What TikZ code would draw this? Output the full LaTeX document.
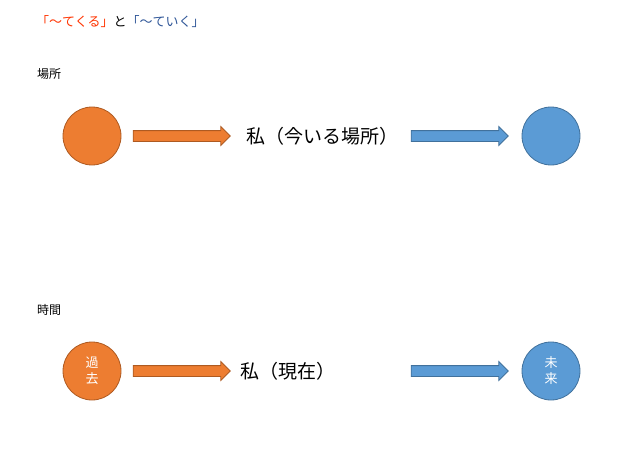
\documentclass[tikz,border=0pt]{standalone}
\usepackage{fontspec}
\setmainfont{Noto Sans CJK JP}
\usetikzlibrary{shapes.arrows}
\definecolor{org}{HTML}{ED7D31}
\definecolor{orgd}{HTML}{AE5A21}
\definecolor{blu}{HTML}{5B9BD5}
\definecolor{blud}{HTML}{41719C}
\definecolor{tred}{HTML}{FF3300}
\definecolor{tblue}{HTML}{2E5597}
\begin{document}
\begin{tikzpicture}[x=1pt,y=-1pt,
  circ/.style={circle,minimum size=58pt,inner sep=0pt,line width=0.8pt,text=white,font=\fontsize{13}{15}\selectfont,align=center},
  oc/.style={circ,fill=org,draw=orgd},
  bc/.style={circ,fill=blu,draw=blud},
  barr/.style={single arrow,minimum height=97pt,single arrow head extend=4pt,single arrow tip angle=90,inner sep=0pt,line width=0.8pt},
  oa/.style={barr,fill=org,draw=orgd},
  ba/.style={barr,fill=blu,draw=blud},
  lab/.style={font=\fontsize{12}{14}\selectfont,anchor=west},
  big/.style={font=\fontsize{19}{22}\selectfont}]
\useasboundingbox (0,0) rectangle (640,452);
\node[anchor=west,font=\fontsize{13}{15}\selectfont,inner sep=0pt] (title) at (36,22) {\textcolor{tred}{「〜てくる」}と\textcolor{tblue}{「〜ていく」}};
\node[lab,inner sep=0pt] (basho) at (37,74) {場所};
\node[oc] (c1) at (92,136) {};
\node[oa] (a1) at (179,136) {\rule{0pt}{10pt}};
\node[big] (t1) at (322,136) {私（今いる場所）};
\node[ba] (a2) at (457,136) {\rule{0pt}{10pt}};
\node[bc] (c2) at (551,136) {};
\node[lab,inner sep=0pt] (jikan) at (37,310) {時間};
\node[oc] (c3) at (92,371) {過\\[1pt]去};
\node[oa] (a3) at (179,371) {\rule{0pt}{10pt}};
\node[big] (t2) at (288,371) {私（現在）};
\node[ba] (a4) at (457,371) {\rule{0pt}{10pt}};
\node[bc] (c4) at (551,371) {未\\[1pt]来};
\end{tikzpicture}
\end{document}
